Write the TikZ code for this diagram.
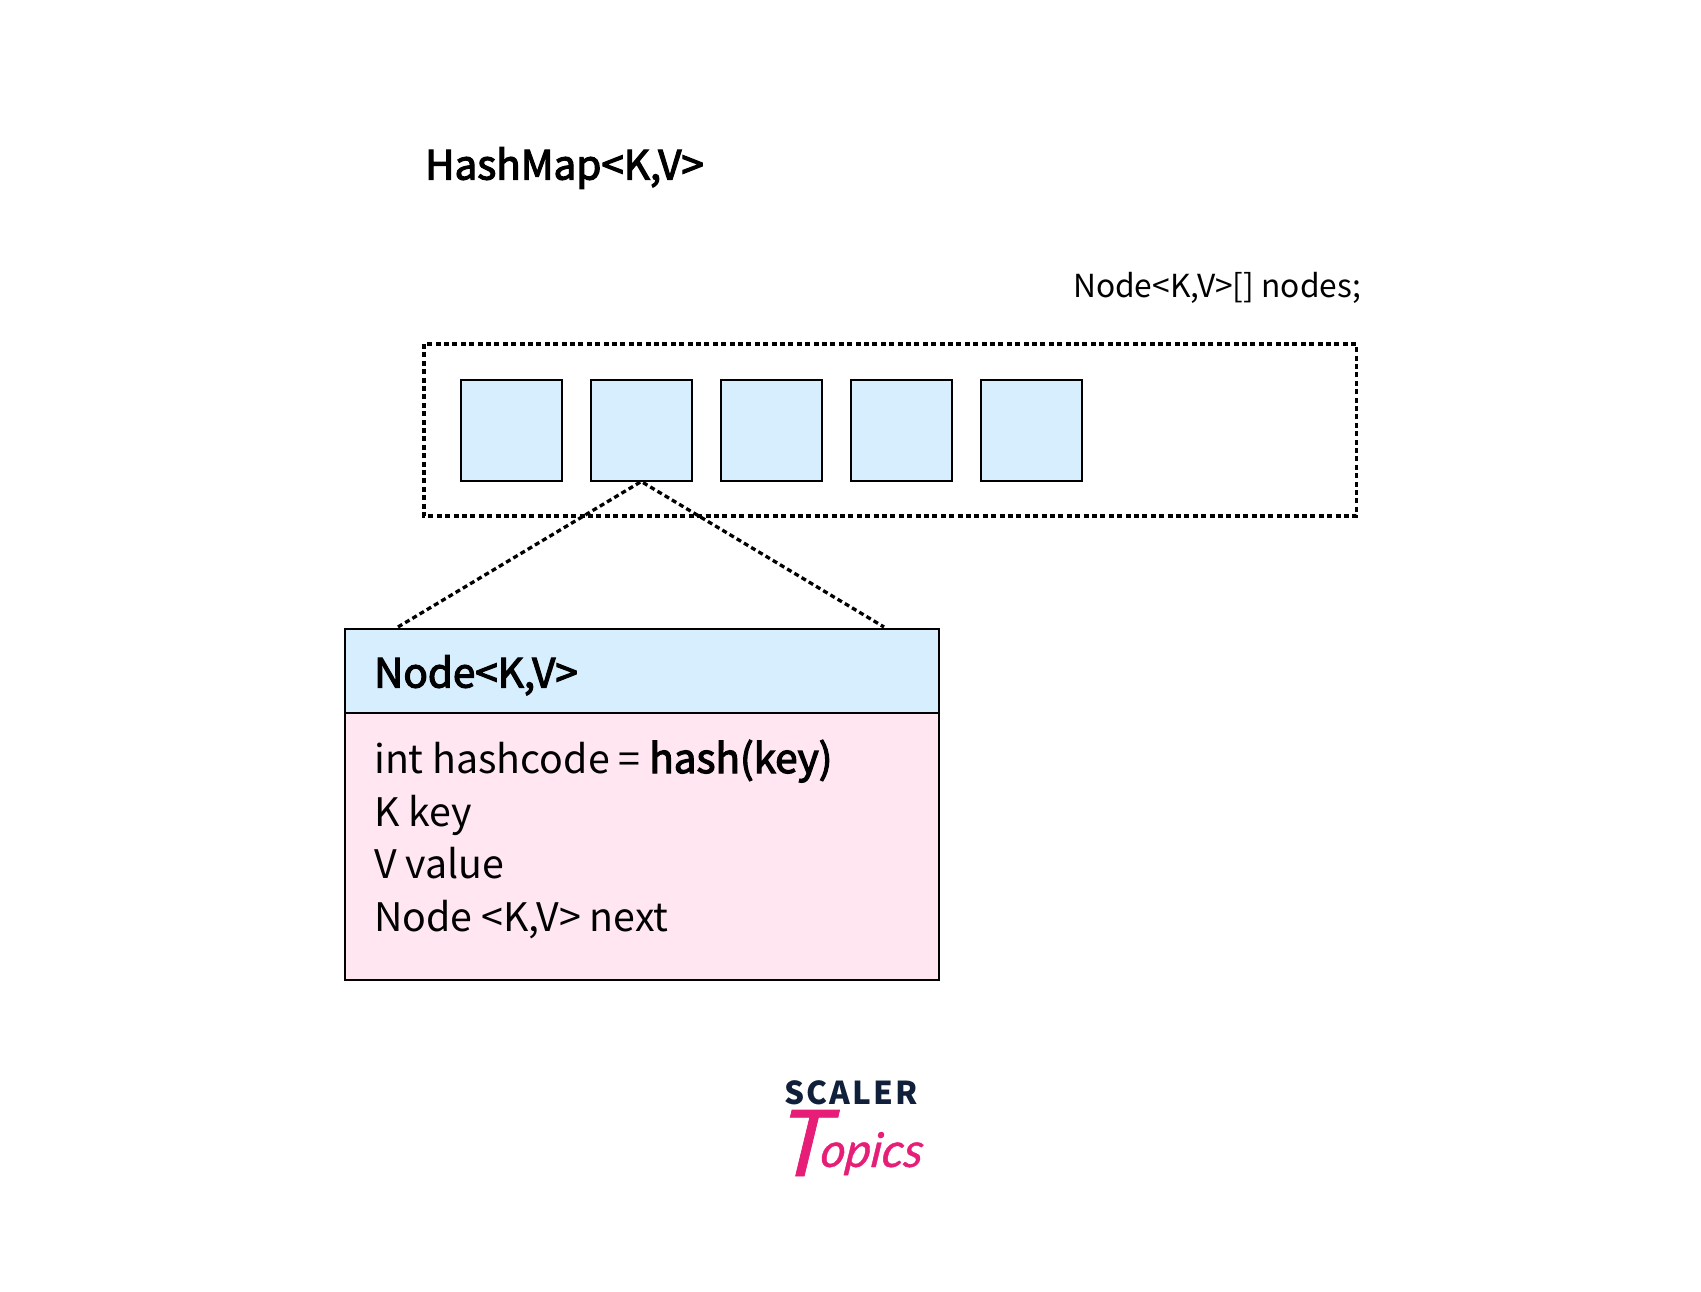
\documentclass[tikz,border=0pt]{standalone}
\usepackage{fontspec}
\setmainfont{Noto Sans CJK JP}
\newfontfamily\semifont[FakeBold=3]{Noto Sans CJK JP}
\newfontfamily\brandfont[LetterSpace=7]{Noto Sans CJK JP}
\newfontfamily\logofont[ItalicFeatures={FakeSlant=0.12,FakeBold=0.8}]{Lato}
\definecolor{cellblue}{HTML}{D7EEFF}
\definecolor{bodypink}{HTML}{FFE6F1}
\definecolor{logonavy}{HTML}{10203A}
\definecolor{logopink}{HTML}{E61E78}
\tikzset{
  cell/.style={draw,line width=2pt,fill=cellblue,minimum size=100.5pt,inner sep=0pt,anchor=north west},
  panel/.style={draw,line width=2pt,minimum width=593.5pt,inner sep=0pt,anchor=north west},
  dotline/.style={line width=3.3pt,dash pattern=on 5pt off 3.4pt},
  textline/.style={inner sep=0pt,anchor=base west},
}
\newcommand{\bigtext}{\fontsize{39.3}{39.3}\selectfont}
\newcommand{\headtext}{\fontsize{40.4}{40.4}\selectfont\semifont}
\newcommand{\smalltext}{\fontsize{31.7}{31.7}\selectfont}

\begin{document}
\begin{tikzpicture}[x=1pt,y=-1pt]
\useasboundingbox (0,0) rectangle (1701,1292);
% the title and the name of the array
\node[textline] (title) at (425,179.5) {\headtext HashMap<K,V>};
\node[textline] (arrayname) at (1073,298) {\smalltext Node<K,V>[] nodes;};
% the array with its five cells
\draw[dotline] (424,344) rectangle (1356.5,516);
\foreach \i/\x in {1/460,2/590,3/720,4/850,5/980}{
  \node[cell] (cell\i) at (\x,379) {};
}
% the node class, header and body
\node[panel,fill=bodypink,minimum height=266.5pt] (nodebody) at (344,712) {};
\node[panel,fill=cellblue,minimum height=84pt] (nodehead) at (344,628) {};
\node[textline] (nodetitle) at (374,687.5) {\headtext Node<K,V>};
\node[textline] (fieldhash) at (374,773) {\bigtext int hashcode = {\headtext hash(key)}};
\node[textline] (fieldkey) at (374,826) {\bigtext K key};
\node[textline] (fieldvalue) at (374,878) {\bigtext V value};
\node[textline] (fieldnext) at (374,931) {\bigtext Node <K,V> next};
% the zoom from the second cell down to the node class
\coordinate (zoomleft) at (398,627);
\coordinate (zoomright) at (884,627);
\draw[dotline] (zoomleft) -- (cell2.south) -- (zoomright);
% the logo
\node[textline] (logoname) at (784,1104) {\fontsize{31.5}{31.5}\selectfont\brandfont\bfseries\color{logonavy}SCALER};
\node[textline] (logotopics) at (778,1167) {\logofont\itshape\color{logopink}\raisebox{-9pt}{\fontsize{92}{92}\selectfont T}\kern-9pt\fontsize{48}{48}\selectfont opics};
\end{tikzpicture}
\end{document}
